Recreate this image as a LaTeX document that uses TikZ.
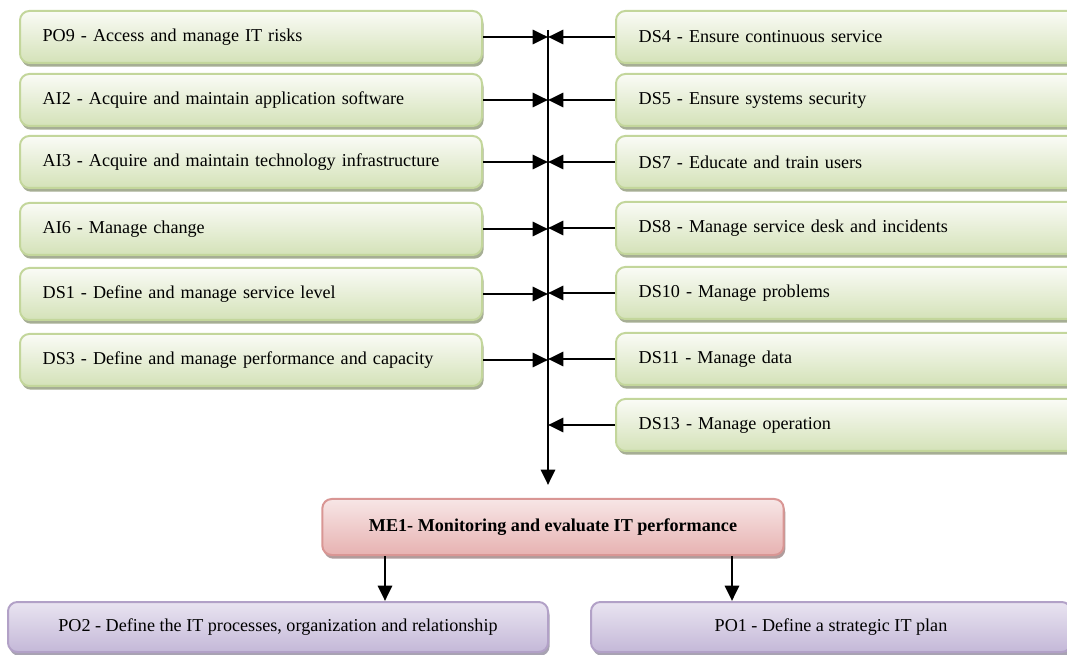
\documentclass[tikz,border=0pt]{standalone}
\usepackage{fontspec}
\setmainfont{Liberation Serif}
\usetikzlibrary{arrows.meta,shadows}
\definecolor{GreenTop}{RGB}{250,251,246}
\definecolor{GreenBot}{RGB}{212,226,184}
\definecolor{GreenLine}{RGB}{195,214,155}
\definecolor{GreenShade}{RGB}{166,174,148}
\definecolor{RedTop}{RGB}{247,230,230}
\definecolor{RedBot}{RGB}{231,178,177}
\definecolor{RedLine}{RGB}{217,150,148}
\definecolor{RedShade}{RGB}{176,156,156}
\definecolor{VioTop}{RGB}{233,228,241}
\definecolor{VioBot}{RGB}{196,184,216}
\definecolor{VioLine}{RGB}{178,161,199}
\definecolor{VioShade}{RGB}{168,163,178}
\tikzset{
  box/.style={line width=1.5pt, rounded corners=7pt, minimum height=39pt,
    font=\fontsize{13.6}{16}\selectfont},
  task/.style={box, draw=GreenLine, top color=GreenTop, bottom color=GreenBot,
    drop shadow={shadow xshift=1.2pt, shadow yshift=-2.8pt, fill=GreenShade, opacity=1},
    inner xsep=17pt, align=left, anchor=west},
  ltask/.style={task, text width=312.5pt},
  rtask/.style={task, text width=320pt},
  monbox/.style={box, draw=RedLine, top color=RedTop, bottom color=RedBot,
    drop shadow={shadow xshift=1.2pt, shadow yshift=-2.8pt, fill=RedShade, opacity=1},
    minimum width=346pt, minimum height=42pt, font=\fontsize{13.6}{16}\selectfont\bfseries},
  plan/.style={box, draw=VioLine, top color=VioTop, bottom color=VioBot,
    drop shadow={shadow xshift=1.2pt, shadow yshift=-2.8pt, fill=VioShade, opacity=1},
    minimum height=37.5pt},
  conn/.style={line width=2.2pt, -{Triangle[length=11.5pt,width=10.5pt]}}
}
\begin{document}
\begin{tikzpicture}[x=0.75pt,y=-0.75pt]
\useasboundingbox (0,0) rectangle (1067,655);
\clip (0,0) rectangle (1067,655);
% bus line down to ME1
\coordinate (bus) at (548,30);
\coordinate (busend) at (548,485);
\draw[conn] (bus) -- (busend);
% processes feeding the monitoring
\foreach \nm/\yy/\txt in {po9/37/{PO9 - Access and manage IT risks},
    ai2/100/{AI2 - Acquire and maintain application software},
    ai3/162/{AI3 - Acquire and maintain technology infrastructure},
    ai6/229/{AI6 - Manage change},
    ds1/294/{DS1 - Define and manage service level},
    ds3/360/{DS3 - Define and manage performance and capacity}}{
  \node[ltask] (\nm) at (19,\yy) {\txt};
  \draw[conn] (\nm.east) -- (\nm.east -| bus);
}
\foreach \nm/\yy/\txt in {ds4/37/{DS4 - Ensure continuous service},
    ds5/100/{DS5 - Ensure systems security},
    ds7/162/{DS7 - Educate and train users},
    ds8/228/{DS8 - Manage service desk and incidents},
    ds10/293/{DS10 - Manage problems},
    ds11/359/{DS11 - Manage data},
    ds13/425/{DS13 - Manage operation}}{
  \node[rtask] (\nm) at (615,\yy) {\txt};
  \draw[conn] (\nm.west) -- (\nm.west -| bus);
}
\node[monbox] (me1) at (553,527) {ME1- Monitoring and evaluate IT performance};
% outputs
\node[plan, minimum width=405pt] (po2) at (278,627) {PO2 - Define the IT processes, organization and relationship};
\node[plan, minimum width=360pt] (po1) at (831,627) {PO1 - Define a strategic IT plan};
\coordinate (dl) at (385,0);
\coordinate (dr) at (732,0);
\draw[conn] (me1.south -| dl) -- (po2.north -| dl);
\draw[conn] (me1.south -| dr) -- (po1.north -| dr);
\end{tikzpicture}
\end{document}
